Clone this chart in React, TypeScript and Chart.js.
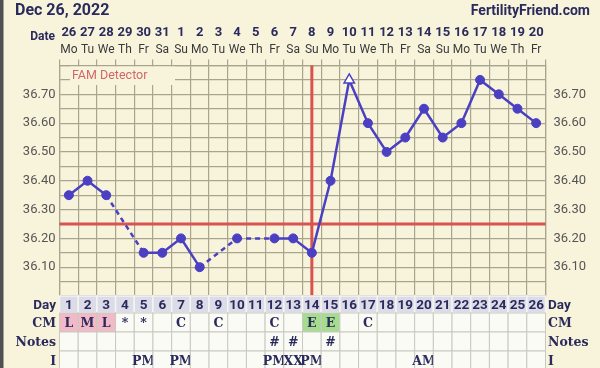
import { useEffect, useRef } from 'react';
import { Chart, registerables } from 'chart.js';

Chart.register(...registerables);

const headerDate = 'Dec 26, 2022';
const siteName = 'FertilityFriend.com';

const cycleDays = ['1', '2', '3', '4', '5', '6', '7', '8', '9', '10', '11', '12', '13', '14', '15', '16', '17', '18', '19', '20', '21', '22', '23', '24', '25', '26'];
const calendarDates = ['26', '27', '28', '29', '30', '31', '1', '2', '3', '4', '5', '6', '7', '8', '9', '10', '11', '12', '13', '14', '15', '16', '17', '18', '19', '20'];
const weekdays = ['Mo', 'Tu', 'We', 'Th', 'Fr', 'Sa', 'Su', 'Mo', 'Tu', 'We', 'Th', 'Fr', 'Sa', 'Su', 'Mo', 'Tu', 'We', 'Th', 'Fr', 'Sa', 'Su', 'Mo', 'Tu', 'We', 'Th', 'Fr'];

const temperatures = [36.35, 36.40, 36.35, null, 36.15, 36.15, 36.20, 36.10, null, 36.20, null, 36.20, 36.20, 36.15, 36.40, 36.75, 36.60, 36.50, 36.55, 36.65, 36.55, 36.60, 36.75, 36.70, 36.65, 36.60];
const openMarkerDays = ['16'];

const cmRow = ['L', 'M', 'L', '*', '*', '', 'C', '', 'C', '', '', 'C', '', 'E', 'E', '', 'C', '', '', '', '', '', '', '', '', ''];
const notesRow = ['', '', '', '', '', '', '', '', '', '', '', '#', '#', '', '#', '', '', '', '', '', '', '', '', '', '', ''];
const intercourseRow = ['', '', '', '', 'PM', '', 'PM', '', '', '', '', 'PM', 'XX', 'PM', '', '', '', '', '', 'AM', '', '', '', '', '', ''];

const yTickLabels = ['36.10', '36.20', '36.30', '36.40', '36.50', '36.60', '36.70'];
const yMin = 36.0;
const yMax = 36.8;
const coverline = 36.25;
const ovulationDay = '14';
const detectorLabel = 'FAM Detector';

const BG = '#f8f4dc';
const GRID = '#a9a48e';
const LINE = '#4b3fc2';
const RED = '#d9524f';
const INK = '#2a2a5c';
const PINK = '#f2b9c7';
const GREEN = '#a6dc8e';

const cellColor: Record<string, string> = { L: PINK, M: PINK, E: GREEN };

const tickCallback = (v: number | string) => {
  const s = (Math.round(Number(v) * 100) / 100).toFixed(2);
  return yTickLabels.includes(s) ? s : '';
};

const ffPlugin = {
  id: 'ffPlugin',
  beforeDraw(chart: any) {
    const { ctx, width, height } = chart;
    const x = chart.scales.x;
    ctx.save();
    ctx.fillStyle = BG;
    ctx.fillRect(0, 0, width, height);
    ctx.fillStyle = '#505050';
    ctx.fillRect(0, 0, 3.5, height);
    ctx.textBaseline = 'middle';
    ctx.fillStyle = INK;
    ctx.font = 'bold 16px Roboto';
    ctx.textAlign = 'left';
    ctx.fillText(headerDate, 15, 11);
    ctx.font = 'bold 14px Roboto';
    ctx.textAlign = 'right';
    ctx.fillText(siteName, 590, 11);
    ctx.font = 'bold 12px Roboto';
    ctx.fillText('Date', 55, 37);
    ctx.textAlign = 'center';
    calendarDates.forEach((d, i) => {
      const px = x.getPixelForValue(i);
      ctx.font = 'bold 13px Roboto';
      ctx.fillStyle = INK;
      ctx.fillText(d, px, 33);
      ctx.font = '12px Roboto';
      ctx.fillStyle = '#3a3a3a';
      ctx.fillText(weekdays[i], px, 50);
    });
    ctx.restore();
  },
  beforeDatasetsDraw(chart: any) {
    const { ctx, chartArea } = chart;
    const x = chart.scales.x;
    const y = chart.scales.y;
    ctx.save();
    ctx.fillStyle = BG;
    ctx.fillRect(70, chartArea.top + 1, 105, 85 - chartArea.top - 1);
    ctx.fillStyle = '#d0686a';
    ctx.font = '12.5px Roboto';
    ctx.textAlign = 'left';
    ctx.textBaseline = 'middle';
    ctx.fillText(detectorLabel, 72, 76);
    ctx.strokeStyle = RED;
    ctx.lineWidth = 3;
    const cy = y.getPixelForValue(coverline);
    ctx.beginPath();
    ctx.moveTo(chartArea.left, cy);
    ctx.lineTo(chartArea.right, cy);
    ctx.stroke();
    const ox = x.getPixelForValue(cycleDays.indexOf(ovulationDay));
    ctx.beginPath();
    ctx.moveTo(ox, chartArea.top);
    ctx.lineTo(ox, chartArea.bottom);
    ctx.stroke();
    ctx.restore();
  },
  afterDraw(chart: any) {
    const { ctx, chartArea } = chart;
    const colW = (chartArea.right - chartArea.left) / cycleDays.length;
    const rows = [
      { label: 'Day', values: cycleDays, h: 17, sans: true },
      { label: 'CM', values: cmRow, h: 19, sans: false },
      { label: 'Notes', values: notesRow, h: 19, sans: false },
      { label: 'I', values: intercourseRow, h: 19, sans: false },
    ];
    ctx.save();
    let top = chartArea.bottom;
    rows.forEach((row, r) => {
      const textFont = row.sans ? 'bold 13.5px Roboto' : 'bold 12.5px "DejaVu Serif"';
      row.values.forEach((v, i) => {
        const left = chartArea.left + i * colW;
        if (r === 0) {
          ctx.fillStyle = '#dcdce8';
          ctx.fillRect(left, top, colW, row.h);
          ctx.strokeStyle = '#f4f4f4';
          ctx.lineWidth = 1.5;
          ctx.strokeRect(left, top, colW, row.h);
        } else {
          ctx.fillStyle = cellColor[v] || '#fbfbf6';
          ctx.fillRect(left, top, colW, row.h);
          ctx.strokeStyle = '#c9c9c2';
          ctx.lineWidth = 1;
          ctx.strokeRect(left, top, colW, row.h);
        }
        if (v) {
          ctx.fillStyle = INK;
          ctx.font = textFont;
          ctx.textAlign = 'center';
          ctx.textBaseline = 'middle';
          ctx.fillText(v, left + colW / 2, top + row.h / 2 + 1);
        }
      });
      ctx.fillStyle = INK;
      ctx.textBaseline = 'middle';
      ctx.font = row.sans ? 'bold 13.5px Roboto' : 'bold 12.5px "DejaVu Serif"';
      ctx.textAlign = 'right';
      ctx.fillText(row.label, 56, top + row.h / 2 + 1);
      ctx.textAlign = 'left';
      ctx.fillText(row.label, 548, top + row.h / 2 + 1);
      top += row.h;
    });
    ctx.restore();
  },
};

export default function App() {
  const ref = useRef<HTMLCanvasElement>(null);
  useEffect(() => {
    document.body.style.margin = '0';
    const isOpen = (i: number) => openMarkerDays.includes(cycleDays[i]);
    const chart = new Chart(ref.current as HTMLCanvasElement, {
      type: 'line',
      data: {
        labels: cycleDays,
        datasets: [
          {
            data: temperatures,
            borderColor: LINE,
            borderWidth: 2.5,
            spanGaps: true,
            tension: 0,
            pointStyle: (c: any) => (isOpen(c.dataIndex) ? 'triangle' : 'circle'),
            pointRadius: (c: any) => (isOpen(c.dataIndex) ? 6 : 4.5),
            pointBackgroundColor: (c: any) => (isOpen(c.dataIndex) ? '#ffffff' : LINE),
            pointBorderColor: LINE,
            pointBorderWidth: (c: any) => (isOpen(c.dataIndex) ? 1.5 : 1),
            segment: {
              borderDash: (c: any) => (temperatures[c.p1DataIndex - 1] == null ? [5, 4] : undefined),
            },
          } as any,
        ],
      },
      options: {
        animation: false,
        responsive: false,
        devicePixelRatio: 1,
        layout: { padding: { top: 59.5, bottom: 72, left: 0, right: 0 } },
        plugins: { legend: { display: false }, tooltip: { enabled: false }, title: { display: false } },
        scales: {
          x: {
            type: 'category',
            position: 'top',
            offset: true,
            grid: { offset: true, color: GRID, lineWidth: 1.2, drawTicks: true, tickLength: 6 },
            border: { color: GRID, width: 1.2 },
            ticks: { display: false },
            afterFit: (s: any) => { s.height = 6; },
          },
          y: {
            type: 'linear',
            position: 'left',
            min: yMin,
            max: yMax,
            grid: { color: GRID, lineWidth: 1.2, drawTicks: false },
            border: { color: GRID, width: 1.2 },
            ticks: { stepSize: 0.05, autoSkip: false, padding: 4, callback: tickCallback, color: '#555555', font: { family: 'Roboto', size: 13 } },
            afterFit: (s: any) => { s.width = 59.5; },
          },
          y2: {
            type: 'linear',
            position: 'right',
            min: yMin,
            max: yMax,
            grid: { display: false, drawTicks: false },
            border: { color: GRID, width: 1.2 },
            ticks: { stepSize: 0.05, autoSkip: false, padding: 8, callback: tickCallback, color: '#555555', font: { family: 'Roboto', size: 13 } },
            afterFit: (s: any) => { s.width = 54.5; },
          },
        },
      } as any,
      plugins: [ffPlugin],
    });
    return () => chart.destroy();
  }, []);
  return (
    <div style={{ width: 600, height: 368 }}>
      <canvas ref={ref} width={600} height={368} style={{ display: 'block' }} />
    </div>
  );
}
